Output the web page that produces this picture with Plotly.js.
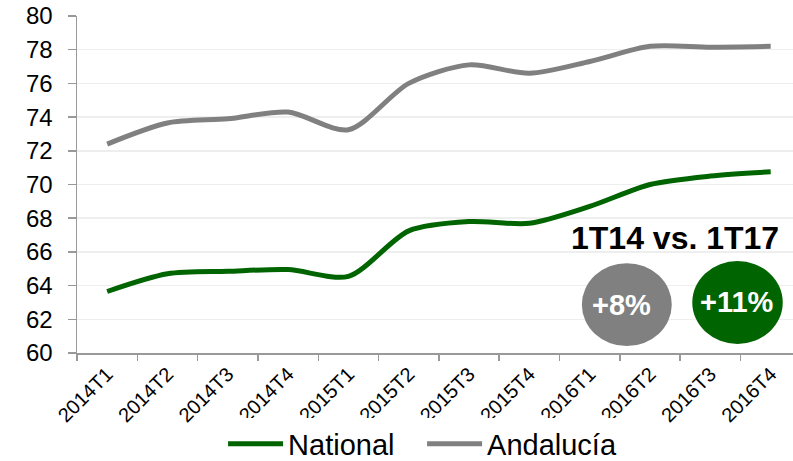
<!DOCTYPE html>
<html>
<head>
<meta charset="utf-8">
<script src="https://cdn.plot.ly/plotly-3.0.1.min.js"></script>
<style>html,body{margin:0;padding:0;background:#fff;}#chart{width:793px;height:461px;}</style>
</head>
<body>
<div id="chart"></div>
<script>
var categories = ["2014T1","2014T2","2014T3","2014T4","2015T1","2015T2","2015T3","2015T4","2016T1","2016T2","2016T3","2016T4"];
var national = [63.65, 64.7, 64.85, 64.95, 64.55, 67.25, 67.8, 67.7, 68.7, 70.0, 70.5, 70.75];
var andalucia = [72.4, 73.65, 73.9, 74.3, 73.25, 76.0, 77.1, 76.6, 77.3, 78.2, 78.15, 78.2];
var seriesNames = ["National", "Andalucía"];
var comparisonTitle = "1T14 vs. 1T17";
var growthLabels = ["+8%", "+11%"];

var green = "#006400";
var grey = "#808080";
var font = "Liberation Sans, Arial, sans-serif";

var traces = [
  {x: categories, y: national, name: seriesNames[0], type: "scatter", mode: "lines",
   line: {color: green, width: 5, shape: "spline", smoothing: 0.8}},
  {x: categories, y: andalucia, name: seriesNames[1], type: "scatter", mode: "lines",
   line: {color: grey, width: 5, shape: "spline", smoothing: 0.8}}
];

var layout = {
  width: 793, height: 461,
  margin: {l: 77, r: 0, t: 16, b: 108},
  paper_bgcolor: "#fff", plot_bgcolor: "#fff",
  font: {family: font, color: "#000"},
  showlegend: true,
  legend: {orientation: "h", x: 0.204, xanchor: "left", yref: "container", y: 0.037, yanchor: "middle",
           font: {size: 29, family: font, color: "#000"}, itemwidth: 55,
           entrywidth: 129, entrywidthmode: "pixels", tracegroupgap: 0},
  xaxis: {type: "category", range: [-0.5, 11.37], showgrid: false, zeroline: false,
          showline: true, linecolor: "#999", linewidth: 1.5,
          ticks: "outside", tickson: "boundaries", ticklen: 6, tickcolor: "#999", tickwidth: 1.5,
          tickangle: -45, tickfont: {size: 20, family: font, color: "#000"}},
  yaxis: {range: [60, 80], dtick: 2, showgrid: true, gridcolor: "#eeeeee", gridwidth: 1.5, zeroline: false,
          showline: true, linecolor: "#999", linewidth: 1.5,
          ticks: "outside", ticklen: 8, tickcolor: "#999", tickwidth: 1.5, ticklabelstandoff: 10,
          tickfont: {size: 24, family: font, color: "#000"}},
  shapes: [
    {type: "circle", xref: "x", yref: "y", x0: 7.87, x1: 9.36, y0: 60.41, y1: 65.33,
     fillcolor: grey, line: {width: 0}, layer: "above"},
    {type: "circle", xref: "x", yref: "y", x0: 9.70, x1: 11.20, y0: 60.54, y1: 65.46,
     fillcolor: green, line: {width: 0}, layer: "above"}
  ],
  annotations: [
    {text: "<b>" + comparisonTitle + "</b>", xref: "x", yref: "y", x: 9.42, y: 66.85,
     showarrow: false, font: {size: 32, family: font, color: "#000"}},
    {text: "<b>" + growthLabels[0] + "</b>", xref: "x", yref: "y", x: 8.53, y: 62.87,
     showarrow: false, font: {size: 29, family: font, color: "#fff"}},
    {text: "<b>" + growthLabels[1] + "</b>", xref: "x", yref: "y", x: 10.44, y: 63.0,
     showarrow: false, font: {size: 29, family: font, color: "#fff"}}
  ]
};

Plotly.newPlot("chart", traces, layout, {displayModeBar: false, staticPlot: true});
</script>
</body>
</html>
